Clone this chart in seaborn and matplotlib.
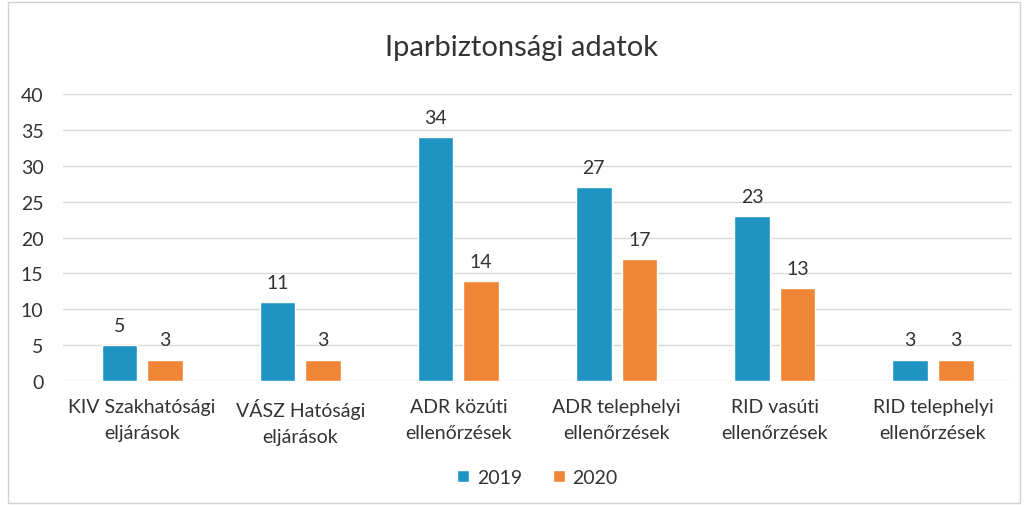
import pandas as pd
import matplotlib.pyplot as plt
import seaborn as sns
from matplotlib.patches import Rectangle

# -------------------------------
# Data
# -------------------------------
categories = [
    "KIV Szakhatósági\neljárások",
    "VÁSZ Hatósági\neljárások",
    "ADR közúti\nellenőrzések",
    "ADR telephelyi\nellenőrzések",
    "RID vasúti\nellenőrzések",
    "RID telephelyi\nellenőrzések",
]
values_2019 = [5, 11, 34, 27, 23, 3]
values_2020 = [3, 3, 14, 17, 13, 3]
years = ["2019", "2020"]

df = pd.DataFrame({
    "category": categories * 2,
    "year": [years[0]] * len(categories) + [years[1]] * len(categories),
    "value": values_2019 + values_2020,
})

# -------------------------------
# Plot
# -------------------------------
sns.set_theme(style="white")
plt.rcParams["font.family"] = ["Lato", "DejaVu Sans"]
text_color = "#333333"

fig = plt.figure(figsize=(10.26, 5.06), dpi=100)
ax = fig.add_axes([0.0614, 0.245, 0.925, 0.567])

palette = {"2019": "#1F94C4", "2020": "#EF8636"}
sns.barplot(data=df, x="category", y="value", hue="year", palette=palette,
            width=0.576, gap=0.22, saturation=1, ax=ax)

for container in ax.containers:
    ax.bar_label(container, padding=8, fontsize=14, color=text_color)

ax.set_ylim(0, 40)
ax.set_yticks(range(0, 41, 5))
ax.yaxis.grid(True, color="#d9d9d9", linewidth=1)
ax.set_axisbelow(True)
sns.despine(ax=ax, left=True, bottom=True)
ax.tick_params(axis="y", length=0, pad=14, labelsize=14, labelcolor=text_color)
ax.tick_params(axis="x", length=0, pad=12, labelsize=14, labelcolor=text_color)
for lbl in ax.get_xticklabels():
    lbl.set_linespacing(1.65)
ax.set_xlabel("")
ax.set_ylabel("")

fig.text(0.508, 0.905, "Iparbiztonsági adatok", ha="center", va="center",
         fontsize=21, color=text_color)

ax.legend(loc="center", bbox_to_anchor=(0.5, -0.335), ncol=2, frameon=False,
          fontsize=14, handlelength=0.6, handleheight=0.6, handletextpad=0.4,
          columnspacing=1.6, labelcolor=text_color)

fig.patches.append(Rectangle((0.008, 0.004), 0.986, 0.99, transform=fig.transFigure,
                             fill=False, edgecolor="#d0d0d0", linewidth=1))

plt.savefig("out.png", dpi=100)
plt.close()
